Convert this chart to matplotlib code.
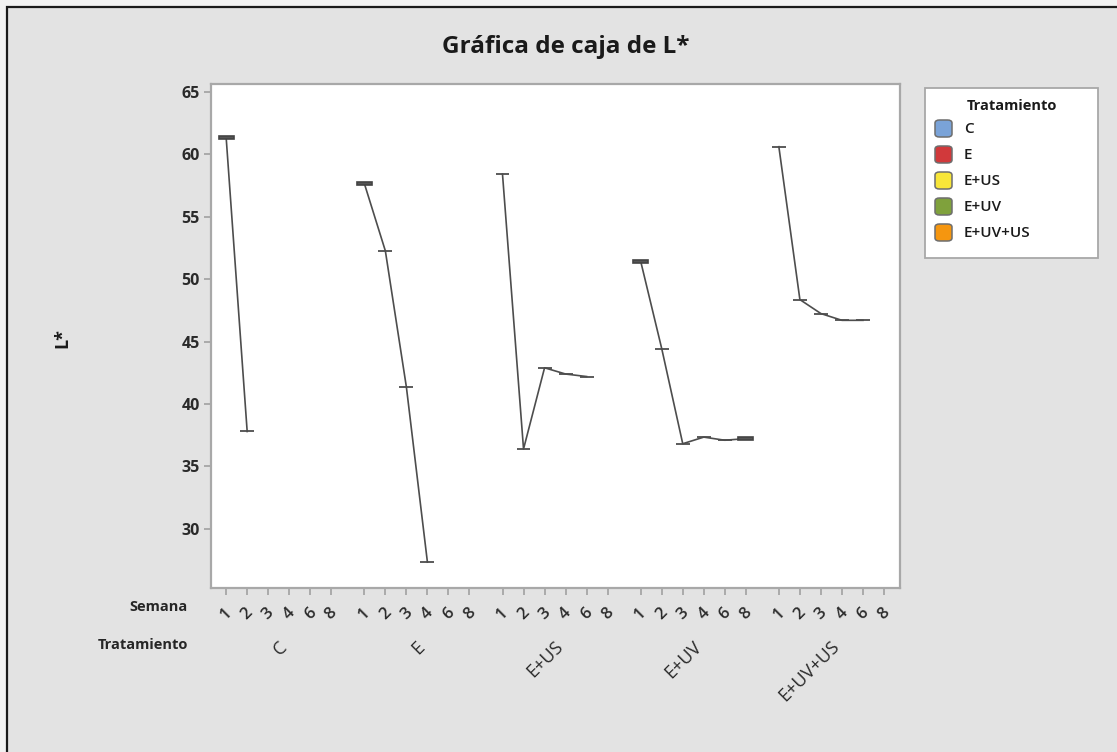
import numpy as np
import matplotlib
matplotlib.use("Agg")
import matplotlib.pyplot as plt
from matplotlib.patches import Rectangle, FancyBboxPatch

plt.rcParams['font.family'] = ['Open Sans', 'DejaVu Sans']

# ---- data ----
treatments = ["C", "E", "E+US", "E+UV", "E+UV+US"]
weeks = ["1", "2", "3", "4", "6", "8"]
nan = np.nan
L_C = [61.35, 37.8, nan, nan, nan, nan]
L_E = [57.66, 52.26, 41.36, 27.34, nan, nan]
L_EUS = [58.4, 36.4, 42.9, 42.4, 42.2, nan]
L_EUV = [51.43, 44.44, 36.82, 37.35, 37.1, 37.23]
L_EUVUS = [60.6, 48.36, 47.24, 46.7, 46.7, nan]
series = [L_C, L_E, L_EUS, L_EUV, L_EUVUS]
# boxes with visible height (half-height in L* units)
box_half = [
    [0.12, 0, 0, 0, 0, 0],
    [0.12, 0, 0, 0, 0, 0],
    [0, 0, 0, 0, 0, 0],
    [0.12, 0, 0, 0, 0, 0.12],
    [0, 0, 0, 0, 0, 0],
]
legend_colors = ["#7aa3d8", "#d1393b", "#f8e639", "#7fa13c", "#f5960f"]
yticks = [30, 35, 40, 45, 50, 55, 60, 65]

W, H = 1117, 752
fig = plt.figure(figsize=(W / 100, H / 100), dpi=100)
fig.patch.set_facecolor("#f2f2f2")

def fx(px):
    return px / W

def fy(py):
    return 1 - py / H

bg = Rectangle((fx(7), -0.05), 1.2, fy(7) + 0.05, transform=fig.transFigure,
               facecolor="#e3e3e3", edgecolor="#1a1a1a", lw=1.6, zorder=-10)
fig.patches.append(bg)

left, right, top, bottom = 211, 900, 84, 588
ax = fig.add_axes([fx(left), fy(bottom), fx(right - left), (bottom - top) / H])
ax.set_facecolor("white")
ax.set_zorder(1)

group_step = 6.57
xpos_all = []
xlabels = []
for g, vals in enumerate(series):
    xs = np.arange(6) + g * group_step
    xpos_all.extend(xs)
    xlabels.extend(weeks)
    v = np.array(vals, dtype=float)
    m = ~np.isnan(v)
    ax.plot(xs[m], v[m], color="#4d4d4d", lw=1.2, zorder=2)
    for k in np.where(m)[0]:
        h = box_half[g][k]
        ax.hlines(v[k], xs[k] - 0.33, xs[k] + 0.33, color="#4d4d4d", lw=1.3, zorder=3)
        if h > 0:
            ax.add_patch(Rectangle((xs[k] - 0.35, v[k] - h), 0.7, 2 * h,
                                   facecolor="#555555", edgecolor="#444444",
                                   lw=1.2, zorder=3))

ax.set_xlim(-0.72, 4 * group_step + 5 + 0.76)
ax.set_ylim(25.27, 65.62)
ax.set_yticks(yticks)
ax.set_yticklabels([str(t) for t in yticks], fontsize=11.5, fontweight="bold",
                   color="#2a2a2a")
ax.set_xticks(xpos_all)
ax.set_xticklabels(xlabels, rotation=45, fontsize=12, color="#2a2a2a",
                   ha="center", va="top", fontweight="semibold")
ax.tick_params(axis="both", colors="#a0a0a0", length=5, width=1.2, labelcolor="#2a2a2a")
ax.tick_params(axis="x", pad=7)
ax.tick_params(axis="y", pad=3)
for s in ax.spines.values():
    s.set_color("#a8a8a8")
    s.set_linewidth(1.6)

# group labels
for g, name in enumerate(treatments):
    xc = g * group_step + 2.5 + 0.25
    ax.annotate(name, xy=(xc, 0), xycoords=("data", "axes fraction"),
                xytext=(0, -56), textcoords="offset pixels",
                rotation=45, ha="right", va="center", rotation_mode="anchor",
                fontsize=13, color="#2a2a2a", annotation_clip=False)

fig.text(fx(188), fy(607), "Semana", ha="right", va="center", fontsize=10.5,
         fontweight="bold", color="#262626")
fig.text(fx(188), fy(645), "Tratamiento", ha="right", va="center", fontsize=10.5,
         fontweight="bold", color="#262626")

fig.text(fx(566), fy(47), "Gráfica de caja de L*", ha="center", va="center",
         fontsize=17.5, fontweight="bold", color="#1a1a1a")
fig.text(fx(62), fy(338), "L*", ha="center", va="center", rotation=90,
         fontsize=13, fontweight="bold", color="#1a1a1a")

# legend (manual)
fig.patches.append(Rectangle((fx(925), fy(258)), fx(1098 - 925), (258 - 88) / H,
                             transform=fig.transFigure, facecolor="white",
                             edgecolor="#a8a8a8", lw=1.3, zorder=1))
fig.text(fx(967), fy(106), "Tratamiento", ha="left", va="center", fontsize=10.5,
         fontweight="bold", color="#1a1a1a")
for i, (name, col) in enumerate(zip(treatments, legend_colors)):
    yc = 129 + i * 26
    fig.patches.append(FancyBboxPatch((fx(935), fy(yc + 8)), fx(17), 17 / H,
                                      boxstyle="round,pad=0,rounding_size=0.004",
                                      transform=fig.transFigure, facecolor=col,
                                      edgecolor="#6e6e6e", lw=1.1, zorder=2))
    fig.text(fx(964), fy(yc), name, ha="left", va="center", fontsize=11,
             fontweight="semibold", color="#1a1a1a")

fig.savefig("out.png", dpi=100, facecolor=fig.get_facecolor())
